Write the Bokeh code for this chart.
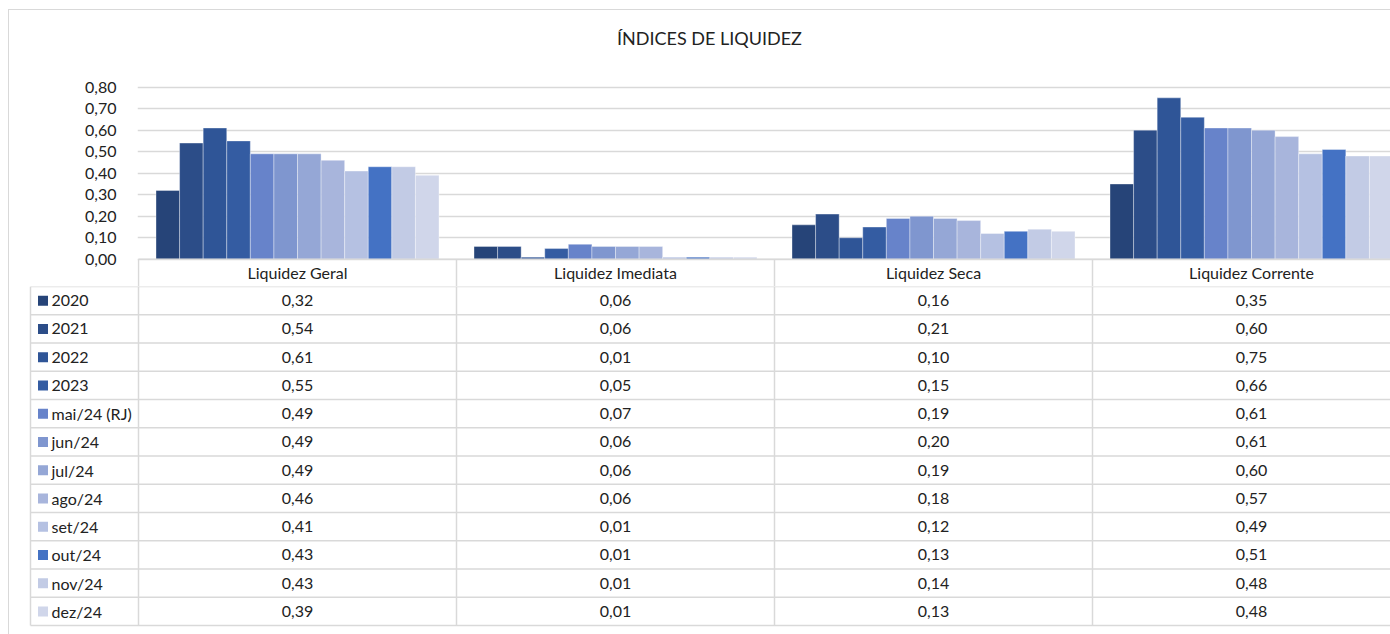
from bokeh.plotting import figure
from bokeh.layouts import column, row
from bokeh.models import Range1d, FixedTicker, ColumnDataSource, CustomJSTickFormatter, Label
from bokeh.core.properties import value
from bokeh.embed import file_html
from bokeh.resources import INLINE

# ---------------- data ----------------
title_text = "ÍNDICES DE LIQUIDEZ"
categories = ["Liquidez Geral", "Liquidez Imediata", "Liquidez Seca", "Liquidez Corrente"]
periods = ["2020", "2021", "2022", "2023", "mai/24 (RJ)", "jun/24", "jul/24",
           "ago/24", "set/24", "out/24", "nov/24", "dez/24"]
liquidez_geral = [0.32, 0.54, 0.61, 0.55, 0.49, 0.49, 0.49, 0.46, 0.41, 0.43, 0.43, 0.39]
liquidez_imediata = [0.06, 0.06, 0.01, 0.05, 0.07, 0.06, 0.06, 0.06, 0.01, 0.01, 0.01, 0.01]
liquidez_seca = [0.16, 0.21, 0.10, 0.15, 0.19, 0.20, 0.19, 0.18, 0.12, 0.13, 0.14, 0.13]
liquidez_corrente = [0.35, 0.60, 0.75, 0.66, 0.61, 0.61, 0.60, 0.57, 0.49, 0.51, 0.48, 0.48]
y_ticks = [0.0, 0.1, 0.2, 0.3, 0.4, 0.5, 0.6, 0.7, 0.8]

series_by_category = [liquidez_geral, liquidez_imediata, liquidez_seca, liquidez_corrente]

# ---------------- style ----------------
colors = ["#264478", "#2c4d88", "#2f5597", "#345ca2", "#6783ca", "#7f96cf",
          "#95a7d6", "#a8b5dc", "#b5c1e2", "#4472c4", "#c2cbe5", "#d0d6ea"]
FONT = "Lato"
TEXT_COLOR = "#222222"
LINE_COLOR = "#d9d9d9"
FS = "16px"

W = 1390
PX_CAT = 318.0            # pixels per category column
PX_UNIT = 213.75          # pixels per 1.0 of value
LEFT = 137
X_END = (W - 138) / PX_CAT
HEADER_H = 27.0
TOP_H = 286
TAB_H = 634 - TOP_H
ROW_PX = 28.25
BW = 283.0 / 12 / PX_CAT

# ---------------- chart ----------------
p = figure(width=W, height=TOP_H,
           x_range=Range1d(-1 / PX_CAT, X_END),
           y_range=Range1d(-HEADER_H / PX_UNIT, 0.8 + 86 / PX_UNIT),
           x_axis_type=None, output_backend="svg", toolbar_location=None,
           min_border_left=LEFT, min_border_right=0, min_border_top=0, min_border_bottom=0,
           background_fill_color=None, border_fill_color=None, outline_line_color=None)

p.yaxis.ticker = FixedTicker(ticks=y_ticks)
p.yaxis.formatter = CustomJSTickFormatter(code="return tick.toFixed(2).replace('.', ',');")
p.yaxis.axis_line_color = None
p.yaxis.major_tick_line_color = None
p.yaxis.minor_tick_line_color = None
p.yaxis.major_label_standoff = 15
p.yaxis.major_label_text_font = FONT
p.yaxis.major_label_text_font_size = FS
p.yaxis.major_label_text_color = TEXT_COLOR
p.ygrid.grid_line_color = LINE_COLOR
p.ygrid.grid_line_width = 1.3

xs, tops, cols = [], [], []
for ci, vals in enumerate(series_by_category):
    for j, v in enumerate(vals):
        xs.append(ci + 0.5 + (j - 5.5) * BW)
        tops.append(v)
        cols.append(colors[j])
bars = ColumnDataSource(dict(x=xs, top=tops, color=cols))
p.vbar(x="x", top="top", bottom=0, width=BW, fill_color="color",
       line_color="white", line_alpha=0.45, line_width=0.8, source=bars)

# header row of the data table
p.segment(x0=[0, 1, 2, 3], y0=[-HEADER_H / PX_UNIT] * 4, x1=[0, 1, 2, 3], y1=[0] * 4,
          line_color=LINE_COLOR, line_width=1.5)
p.segment(x0=[0], y0=[0], x1=[X_END], y1=[0], line_color=LINE_COLOR, line_width=1.5)
p.text(x=[c + 0.5 for c in range(len(categories))],
       y=[-HEADER_H / 2 / PX_UNIT] * len(categories), text=categories,
       text_align="center", text_baseline="middle", text_font=value(FONT),
       text_font_size=FS, text_color=TEXT_COLOR)

p.add_layout(Label(x=(709 - 138) / PX_CAT, y=0.8 + (87 - 38) / PX_UNIT, text=title_text,
                   text_align="center", text_baseline="middle", text_font=FONT,
                   text_font_size="18px", text_color=TEXT_COLOR))

# ---------------- table ----------------
n = len(periods)
x_leg = (30 - 138) / PX_CAT
t = figure(width=W, height=TAB_H,
           x_range=Range1d(-138 / PX_CAT, X_END),
           y_range=Range1d(TAB_H / ROW_PX, 0),
           x_axis_type=None, y_axis_type=None, output_backend="svg", toolbar_location=None,
           min_border=0, min_border_left=0, min_border_right=0,
           min_border_top=0, min_border_bottom=0,
           background_fill_color=None, border_fill_color=None,
           outline_line_color=None)
t.xgrid.visible = False
t.ygrid.visible = False

t.segment(x0=[x_leg] * (n + 1), y0=list(range(n + 1)), x1=[X_END] * (n + 1), y1=list(range(n + 1)),
          line_color=LINE_COLOR, line_width=1.5)
vx = [x_leg, 0, 1, 2, 3]
t.segment(x0=vx, y0=[0] * len(vx), x1=vx, y1=[n] * len(vx), line_color=LINE_COLOR, line_width=1.5)

t.scatter(x=[(42.5 - 138) / PX_CAT] * n, y=[j + 0.5 for j in range(n)], marker="square",
          size=10, fill_color=colors, line_color=None)
t.text(x=[(51 - 138) / PX_CAT] * n, y=[j + 0.5 for j in range(n)], text=periods,
       text_align="left", text_baseline="middle", text_font=value(FONT),
       text_font_size=FS, text_color=TEXT_COLOR)

tx, ty, tt = [], [], []
for ci, vals in enumerate(series_by_category):
    for j, v in enumerate(vals):
        tx.append(ci + 0.5)
        ty.append(j + 0.5)
        tt.append(f"{v:.2f}".replace(".", ","))
t.text(x=tx, y=ty, text=tt, text_align="center", text_baseline="middle",
       text_font=value(FONT), text_font_size=FS, text_color=TEXT_COLOR)

border_css = ("linear-gradient(#d9d9d9, #d9d9d9) 8px 9px / 1px 100% no-repeat, "
              "linear-gradient(#d9d9d9, #d9d9d9) 8px 9px / 100% 1px no-repeat, white")
layout = column(row(p), row(t), spacing=0, styles={"background": border_css})

open("out.html", "w").write(file_html(layout, INLINE))
